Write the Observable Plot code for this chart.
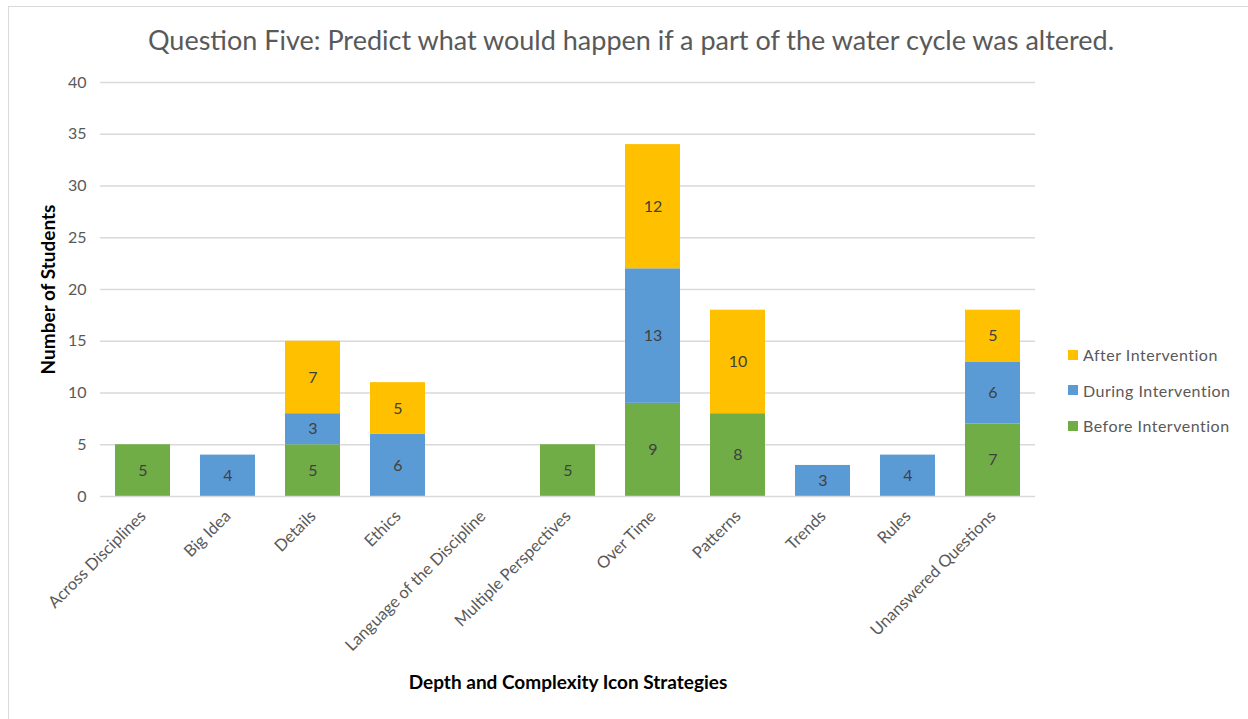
<!DOCTYPE html>
<html>
<head>
<meta charset="utf-8">
<script src="https://cdn.jsdelivr.net/npm/d3@7"></script>
<script src="https://cdn.jsdelivr.net/npm/@observablehq/plot@0.6"></script>
<style>
  html, body { margin: 0; padding: 0; background: #fff; }
  #wrap { position: relative; width: 1248px; height: 719px; overflow: hidden; font-family: Lato, "Open Sans", sans-serif; background: #fff; }
  #frame { position: absolute; left: 8px; top: 6px; width: 1260px; height: 730px; border-left: 1.5px solid #d9d9d9; border-top: 1.5px solid #d9d9d9; z-index: 5; pointer-events: none; }
  #title { position: absolute; left: 0; top: 23px; width: 1262px; text-align: center; font-size: 27px; color: #595959; }
  #chart { position: absolute; left: 0; top: 70px; }
  #legend { position: absolute; left: 1068px; top: 337px; font-size: 16px; color: #595959; }
  .li { display: flex; align-items: center; height: 35.5px; letter-spacing: 0.5px; }
  .sw { width: 10px; height: 10px; margin-right: 5px; }
</style>
</head>
<body>
<div id="wrap">
  <div id="frame"></div>
  <div id="title"></div>
  <div id="chart"></div>
  <div id="legend"></div>
</div>
<script>
const title = "Question Five: Predict what would happen if a part of the water cycle was altered.";
const categories = ["Across Disciplines", "Big Idea", "Details", "Ethics", "Language of the Discipline", "Multiple Perspectives", "Over Time", "Patterns", "Trends", "Rules", "Unanswered Questions"];
const seriesNames = ["Before Intervention", "During Intervention", "After Intervention"];
const before = [5, 0, 5, 0, 0, 5, 9, 8, 0, 0, 7];
const during = [0, 4, 3, 6, 0, 0, 13, 0, 3, 4, 6];
const after = [0, 0, 7, 5, 0, 0, 12, 10, 0, 0, 5];
const colors = ["#70AD47", "#5B9BD5", "#FFC000"];
const yTicks = [0, 5, 10, 15, 20, 25, 30, 35, 40];
const xTitle = "Depth and Complexity Icon Strategies";
const yTitle = "Number of Students";

document.getElementById("title").textContent = title;

const seriesValues = [before, during, after];
const rows = [];
categories.forEach((c, i) => {
  seriesValues.forEach((vals, s) => {
    if (vals[i] > 0) rows.push({ category: c, series: seriesNames[s], value: vals[i] });
  });
});

const W = 1248, H = 649;
const chart = Plot.plot({
  width: W,
  height: H,
  marginLeft: 100,
  marginRight: 213,
  marginTop: 12,
  marginBottom: 223,
  style: { fontFamily: "Lato, 'Open Sans', sans-serif", background: "transparent", overflow: "visible" },
  x: { domain: categories, paddingInner: 0.35, paddingOuter: 0.175, label: null },
  y: { domain: [0, 40], label: null },
  color: { domain: seriesNames, range: colors },
  marks: [
    Plot.gridY(yTicks.slice(1), { stroke: "#d9d9d9", strokeOpacity: 1, strokeWidth: 1.3 }),
    Plot.barY(rows, { x: "category", y: "value", fill: "series", order: null }),
    Plot.text(rows, Plot.stackY({ x: "category", y: "value", z: "series", order: null, text: "value", fill: "#404040", fontSize: 16 })),
    Plot.ruleY([0], { stroke: "#d9d9d9", strokeWidth: 1.5 }),
    Plot.axisY({ ticks: yTicks, tickSize: 0, tickPadding: 14, fontSize: 16, color: "#595959", label: null }),
    Plot.axisX({ tickSize: 0, tickRotate: -45, tickPadding: 17, fontSize: 16.5, color: "#595959", label: null }),
    Plot.text([xTitle], { frameAnchor: "bottom", dy: 192, fontSize: 19, fontWeight: "bold", fill: "#000" }),
    Plot.text([yTitle], { frameAnchor: "left", textAnchor: "middle", dx: -52, rotate: -90, fontSize: 19, fontWeight: "bold", fill: "#000" })
  ]
});
document.getElementById("chart").appendChild(chart);

const legend = document.getElementById("legend");
[2, 1, 0].forEach(s => {
  const d = document.createElement("div");
  d.className = "li";
  const sw = document.createElement("div");
  sw.className = "sw";
  sw.style.background = colors[s];
  const t = document.createElement("span");
  t.textContent = seriesNames[s];
  d.appendChild(sw); d.appendChild(t);
  legend.appendChild(d);
});
</script>
</body>
</html>
